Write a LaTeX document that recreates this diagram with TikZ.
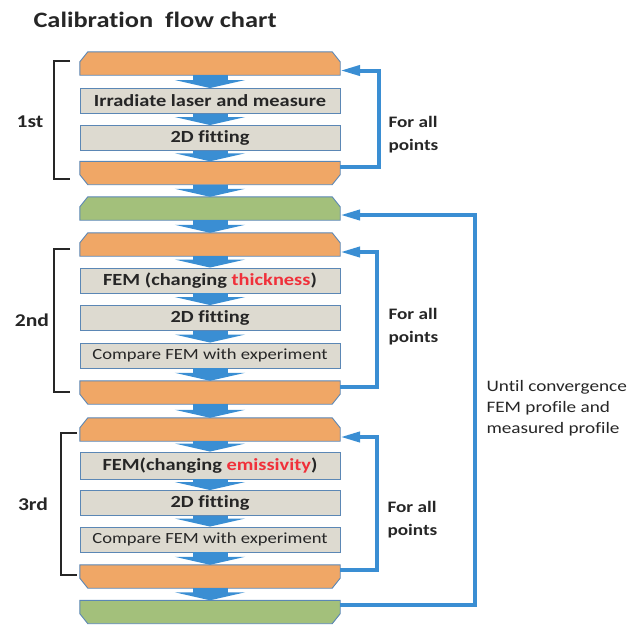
\documentclass[tikz,border=0pt]{standalone}
\usepackage{fontspec}
\setmainfont{Carlito}[FakeStretch=1.2,Ligatures=NoCommon]
\usetikzlibrary{arrows.meta}
\definecolor{barorange}{HTML}{F0A766}
\definecolor{bargreen}{HTML}{A3C07B}
\definecolor{boxgray}{HTML}{DDDAD0}
\definecolor{edgeblue}{HTML}{5B87B5}
\definecolor{flowblue}{HTML}{3A8ED3}
\definecolor{txt}{HTML}{262626}
\definecolor{hl}{HTML}{F0303A}

\begin{document}
\begin{tikzpicture}[x=1pt,y=-1pt,text=txt,
  barnode/.style={rectangle,minimum width=260pt,minimum height=23pt,inner sep=0pt},
  barline/.style={draw=edgeblue,line width=0.9pt},
  grbox/.style={rectangle,draw=edgeblue,line width=0.9pt,fill=boxgray,minimum width=260pt,minimum height=25pt,inner sep=0pt,font=\bfseries\fontsize{17}{20}\selectfont},
  cmpbox/.style={grbox,font=\fontsize{15.5}{19}\selectfont},
  flow/.style={draw=flowblue,line width=35pt,-{Triangle[width=70pt,length=8pt]}},
  backline/.style={draw=flowblue,line width=4pt,-{Triangle[length=20pt,width=10pt]}},
  brk/.style={draw=txt,line width=1.6pt},
  ordinal/.style={font=\bfseries\fontsize{18}{21}\selectfont},
  lbl/.style={font=\bfseries\fontsize{16}{23}\selectfont,align=left,anchor=west}]
\useasboundingbox (0,0) rectangle (631,624);

\node[anchor=base west,font=\bfseries\fontsize{22}{26}\selectfont] at (30,27) (title) {Calibration~ flow chart};

\node[barnode] at (210,63.5) (t1) {};
\node[grbox] at (210,101) (g1a) {Irradiate laser and measure};
\node[grbox] at (210,138) (g1b) {2D fitting};
\node[barnode] at (210,173) (b1) {};
\node[barnode] at (210,208.5) (gr1) {};
\node[barnode] at (210,244.5) (t2) {};
\node[grbox] at (210,280.5) (g2a) {FEM (changing \textcolor{hl}{thickness})};
\node[grbox] at (210,318) (g2b) {2D fitting};
\node[cmpbox] at (210,355.5) (g2c) {Compare FEM with experiment};
\node[barnode] at (210,392.5) (b2) {};
\node[barnode] at (210,429.5) (t3) {};
\node[grbox,minimum height=27pt] at (210,465.5) (g3a) {FEM(changing \textcolor{hl}{emissivity})};
\node[grbox] at (210,503) (g3b) {2D fitting};
\node[cmpbox] at (210,539.5) (g3c) {Compare FEM with experiment};
\node[barnode] at (210,576.5) (b3) {};
\node[barnode] at (210,612) (gr2) {};

\foreach \n/\c in {t1/barorange,gr1/bargreen,t2/barorange,t3/barorange}
  \filldraw[barline,fill=\c] ([xshift=8pt]\n.north west) -- ([xshift=-8pt]\n.north east) -- ([yshift=-10pt]\n.north east)
    -- (\n.south east) -- (\n.south west) -- ([yshift=-10pt]\n.north west) -- cycle;
\foreach \n/\c in {b1/barorange,b2/barorange,b3/barorange,gr2/bargreen}
  \filldraw[barline,fill=\c] (\n.north west) -- (\n.north east) -- ([yshift=10pt]\n.south east)
    -- ([xshift=-8pt]\n.south east) -- ([xshift=8pt]\n.south west) -- ([yshift=10pt]\n.south west) -- cycle;

\draw[flow] (t1) -- (g1a);
\draw[flow] (g1a) -- (g1b);
\draw[flow] (g1b) -- (b1);
\draw[flow] (b1) -- (gr1);
\draw[flow] (gr1) -- (t2);
\draw[flow] (t2) -- (g2a);
\draw[flow] (g2a) -- (g2b);
\draw[flow] (g2b) -- (g2c);
\draw[flow] (g2c) -- (b2);
\draw[flow] (b2) -- (t3);
\draw[flow] (t3) -- (g3a);
\draw[flow] (g3a) -- (g3b);
\draw[flow] (g3b) -- (g3c);
\draw[flow] (g3c) -- (b3);
\draw[flow] (b3) -- (gr2);

\draw[backline] ([yshift=6pt]b1.east) -- ++(39,0) |- ([yshift=-7pt]t1.east);
\draw[backline] ([yshift=5.5pt]b2.east) -- ++(37,0) |- ([yshift=-7.5pt]t2.east);
\draw[backline] ([yshift=6.5pt]b3.east) -- ++(37,0) |- ([yshift=-7.5pt]t3.east);
\draw[backline] ([yshift=7pt]gr2.east) -- ++(135,0) |- ([yshift=-6.5pt]gr1.east);

\draw[brk] (70,61) -- (54,61) -- (54,179) -- (70,179);
\draw[brk] (70,249) -- (54,249) -- (54,392) -- (70,392);
\draw[brk] (77,433) -- (61,433) -- (61,575) -- (77,575);

\node[ordinal] at (30,122) (n1) {1st};
\node[ordinal] at (32,320) (n2) {2nd};
\node[ordinal] at (33,504) (n3) {3rd};

\node[lbl] at (385,134.5) (p1) {For all\\points};
\node[lbl] at (385,327) (p2) {For all\\points};
\node[lbl] at (384,519.5) (p3) {For all\\points};
\node[lbl,font=\fontsize{16}{21}\selectfont] at (483,408) (conv) {Until convergence\\FEM profile and\\measured profile};
\end{tikzpicture}
\end{document}
